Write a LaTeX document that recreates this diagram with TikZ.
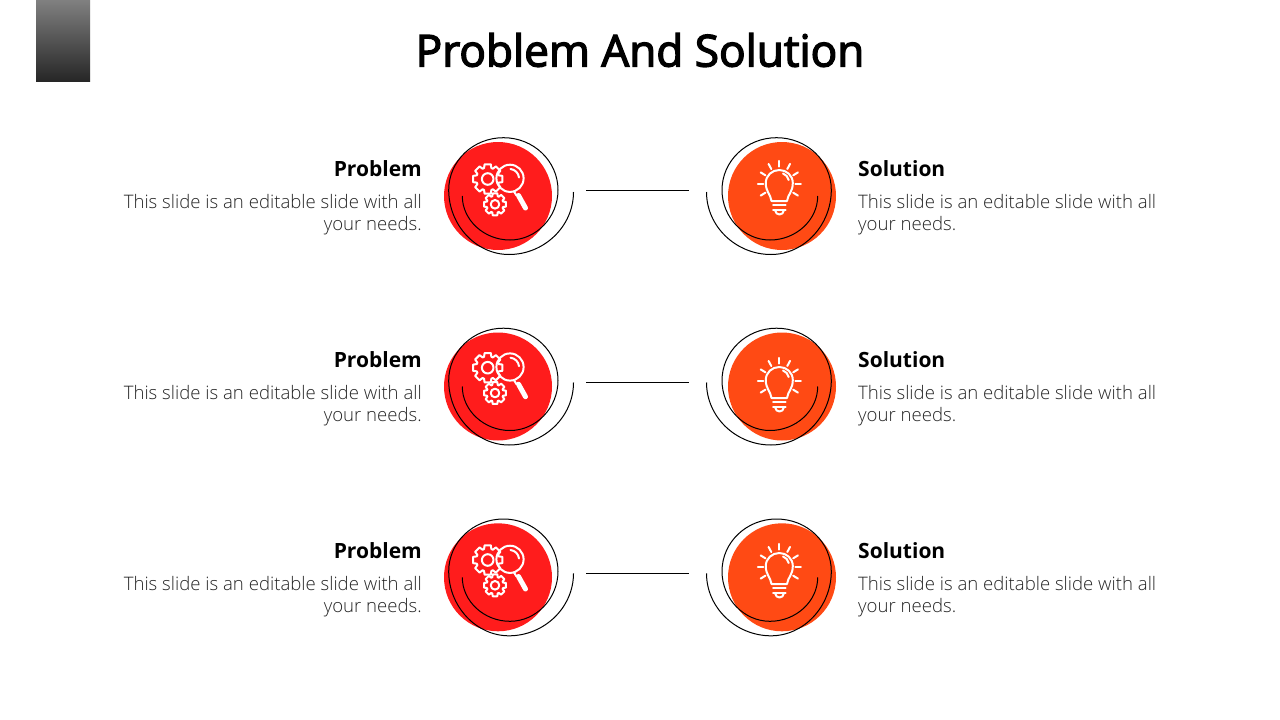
\documentclass[tikz,border=0pt]{standalone}
\usepackage{fontspec}
\setmainfont{Open Sans}
\newfontfamily\lightf{Open Sans Light}
\newfontfamily\semif[FakeBold=3]{Open Sans}
\definecolor{probred}{HTML}{FF1C1C}
\definecolor{solorange}{HTML}{FF4A14}
\definecolor{bartop}{HTML}{808080}
\definecolor{barbot}{HTML}{262626}
\definecolor{bodytxt}{HTML}{262626}
\tikzset{
 x=1pt,y=-1pt,
 spiral/.style={draw=black,line width=1pt},
 link/.style={draw=black,line width=0.9pt},
 iconline/.style={draw=white,line width=2pt,line join=round,line cap=round},
 headtxt/.style={font=\fontsize{21}{25}\selectfont\bfseries,inner sep=0pt},
 bodyL/.style={font=\fontsize{18.6}{22.4}\selectfont\lightf,text=bodytxt,inner sep=0pt,align=right},
 bodyR/.style={font=\fontsize{18.6}{22.4}\selectfont\lightf,text=bodytxt,inner sep=0pt,align=left},
 gearsicon/.pic={
  \foreach \cx/\cy/\ro/\ri/\rh in {487.7/179/15/11.5/5.8,495/204.3/11.2/8.5/4.3}{
   \draw[iconline] ({\cx+\ri*cos(-18.5)},{\cy+\ri*sin(-18.5)})
    \foreach \a in {0,45,...,315}{
      -- ({\cx+\ri*cos(\a-18.5)},{\cy+\ri*sin(\a-18.5)})
      -- ({\cx+\ro*cos(\a-12)},{\cy+\ro*sin(\a-12)})
      -- ({\cx+\ro*cos(\a+12)},{\cy+\ro*sin(\a+12)})
      -- ({\cx+\ri*cos(\a+18.5)},{\cy+\ri*sin(\a+18.5)})
    } -- cycle;
   \draw[iconline] (\cx,\cy) circle[radius=\rh];
  }
  \draw[iconline] (510,178.3) circle[radius=13.6];
  \draw[iconline] (510.5,169) .. controls (515,169.5) and (518.5,173) .. (519,177.5);
  \draw[iconline] (514,191.5) -- (516.5,195.5);
  \draw[draw=white,line width=5pt,line cap=round] (518.5,195.5) -- (525.5,208);
 },
 bulbicon/.pic={
  \foreach \a in {-30,0,30,60,90,120,150,180,210}{
   \draw[iconline] ({779.3+16*cos(\a)},{184-16*sin(\a)*1.08}) -- ({779.3+21.5*cos(\a)},{184-21.5*sin(\a)*1.08});
  }
  \draw[iconline] (771.5,201) .. controls (770.5,194) and (765.8,192) .. (765.8,183)
    .. controls (765.8,175.5) and (772,170) .. (779.3,170)
    .. controls (786.6,170) and (792.8,175.5) .. (792.8,183)
    .. controls (792.8,192) and (788,194) .. (787,201) -- cycle;
  \draw[iconline] (783,173.5) .. controls (786,174.5) and (788,177) .. (788.7,180);
  \draw[iconline] (773,205) -- (785.5,205);
  \draw[iconline] (773,209.5) -- (785.5,209.5);
  \draw[iconline] (775,210) .. controls (775.5,216) and (783.5,216) .. (784,210);
 },
}
\begin{document}
\begin{tikzpicture}
\useasboundingbox (0,0) rectangle (1280,720);
\fill[white] (0,0) rectangle (1280,720);
\shade[top color=bartop,bottom color=barbot] (36,0) rectangle (90,81.6);
\node[font=\fontsize{44.1}{50}\selectfont\semif,inner sep=0pt,anchor=center] (title) at (640,50) {Problem And Solution};
\foreach \n/\dy/\idy/\bdy/\tdy/\ldy in {1/0/0/0/0/0,2/190.5/188.7/197/191/192,3/381.3/381/383/382/383}{
 \begin{scope}[shift={(0,\dy)}]
  \node[circle,fill=probred,minimum size=108pt,inner sep=0pt] (pc\n) at (498,196) {};
  \draw[spiral] (573.5,192) .. controls (573.5,226.5) and (544,254.5) .. (509,254.5)
    .. controls (476,254.5) and (448.7,225) .. (448.7,190)
    .. controls (448.7,161) and (473,137.7) .. (503.5,137.7)
    .. controls (533.5,137.7) and (558,161) .. (558,190)
    .. controls (558,217.5) and (536,240) .. (510,240)
    .. controls (484,240) and (462.3,220) .. (462.3,196);
  \node[circle,fill=solorange,minimum size=108pt,inner sep=0pt] (sc\n) at (782,196) {};
  \draw[spiral] (706.5,192) .. controls (706.5,226.5) and (736,254.5) .. (771,254.5)
    .. controls (804,254.5) and (831.3,225) .. (831.3,190)
    .. controls (831.3,161) and (807,137.7) .. (776.5,137.7)
    .. controls (746.5,137.7) and (722,161) .. (722,190)
    .. controls (722,217.5) and (744,240) .. (770,240)
    .. controls (796,240) and (817.7,220) .. (817.7,196);
 \end{scope}
 \begin{scope}[shift={(0,\tdy)}]
  \node[headtxt,anchor=base east] (ph\n) at (422,176.5) {Problem};
  \node[bodyL,anchor=north east] (pb\n) at (422,194) {This slide is an editable slide with all\\your needs.};
  \node[headtxt,anchor=base west] (sh\n) at (858,176.5) {Solution};
  \node[bodyR,anchor=north west] (sb\n) at (858,194) {This slide is an editable slide with all\\your needs.};
 \end{scope}
 \coordinate (la\n) at (586,190+\ldy);
 \coordinate (lb\n) at (689,190+\ldy);
 \draw[link] (la\n) -- (lb\n);
 \pic at (0,\idy) {gearsicon};
 \pic at (0,\bdy) {bulbicon};
}
\end{tikzpicture}
\end{document}
